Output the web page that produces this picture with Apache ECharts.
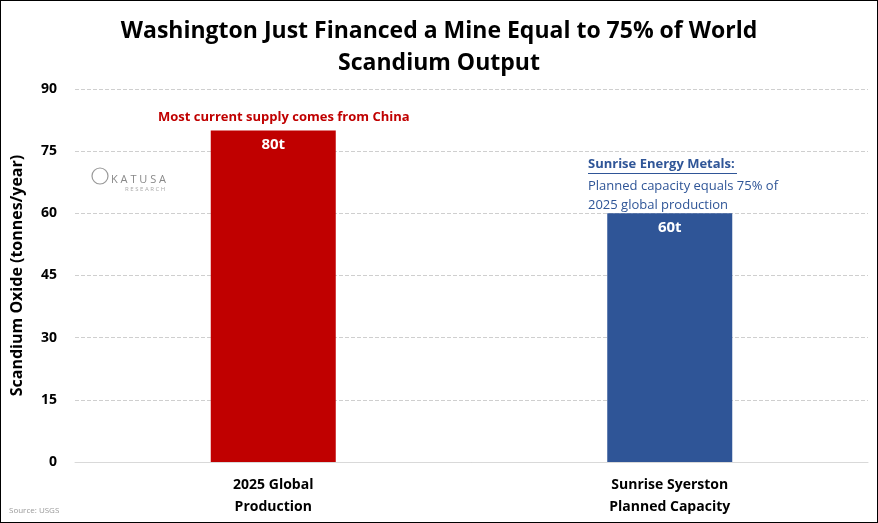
<!DOCTYPE html>
<html lang="en">
<head>
<meta charset="UTF-8">
<title>Scandium</title>
<script src="https://cdn.jsdelivr.net/npm/echarts@6/dist/echarts.min.js"></script>
<style>
 html,body{margin:0;padding:0;background:#fff}
 #container{width:876px;height:521px;border:1px solid #000}
</style>
</head>
<body>
<div id="container"></div>
<script type="text/javascript">
var myChart = echarts.init(document.getElementById("container"));
var cats = ['2025 Global\nProduction', 'Sunrise Syerston\nPlanned Capacity'];
var data = [
    {value: 80, itemStyle: {color: '#c00000'}},
    {value: 60, itemStyle: {color: '#2f5597'}}
];
var font = '"Open Sans", sans-serif';
var option = {
    title: {
        left: 'center', top: 9,
        text: 'Washington Just Financed a Mine Equal to 75% of World\nScandium Output',
        textStyle: {fontSize: 23, fontWeight: 'bold', color: '#000', lineHeight: 32, fontFamily: font}
    },
    grid: {left: 74, right: 9, top: 88, bottom: 60},
    xAxis: {
        type: 'category', data: cats,
        axisTick: {show: false},
        axisLine: {lineStyle: {color: '#d9d9d9'}},
        axisLabel: {color: '#000', fontSize: 14, fontWeight: 'bold', lineHeight: 22, margin: 12, fontFamily: font}
    },
    yAxis: {
        type: 'value', min: 0, max: 90, interval: 15,
        name: 'Scandium Oxide (tonnes/year)', nameLocation: 'middle', nameGap: 50,
        nameTextStyle: {fontSize: 16, fontWeight: 'bold', color: '#000', fontFamily: font},
        axisLabel: {color: '#000', fontSize: 14, fontWeight: 'bold', margin: 18, fontFamily: font},
        splitLine: {lineStyle: {color: '#cfcfcf', type: 'dashed'}}
    },
    series: [{
        type: 'bar', data: data, barWidth: 125,
        label: {show: true, position: 'insideTop', distance: 7, formatter: '{c}t',
            color: '#fff', fontSize: 15, fontWeight: 'bold', fontFamily: font}
    }],
    graphic: [
        {type: 'text', left: 157, top: 110, style: {text: 'Most current supply comes from China', fill: '#c00000', font: 'bold 13px ' + font}},
        {type: 'text', left: 587, top: 157, style: {text: 'Sunrise Energy Metals:', fill: '#2f5597', font: 'bold 13px ' + font}},
        {type: 'rect', left: 587, top: 172, shape: {width: 149, height: 1}, style: {fill: '#2f5597'}},
        {type: 'text', left: 587, top: 176, style: {text: 'Planned capacity equals 75% of\n2025 global production', fill: '#2f5597', font: '13px ' + font, lineHeight: 19}},
        {type: 'text', left: 110, top: 173, style: {text: 'K A T U S A', fill: '#888', font: '11px ' + font}},
        {type: 'text', left: 124, top: 185, style: {text: 'R E S E A R C H', fill: '#aaa', font: '6px ' + font}},
        {type: 'circle', shape: {cx: 99, cy: 175, r: 8}, style: {fill: 'none', stroke: '#999', lineWidth: 1.2}},
        {type: 'text', left: 8, top: 506, style: {text: 'Source: USGS', fill: '#999', font: '8px ' + font}}
    ]
};
myChart.setOption(option, true);
</script>
</body>
</html>
